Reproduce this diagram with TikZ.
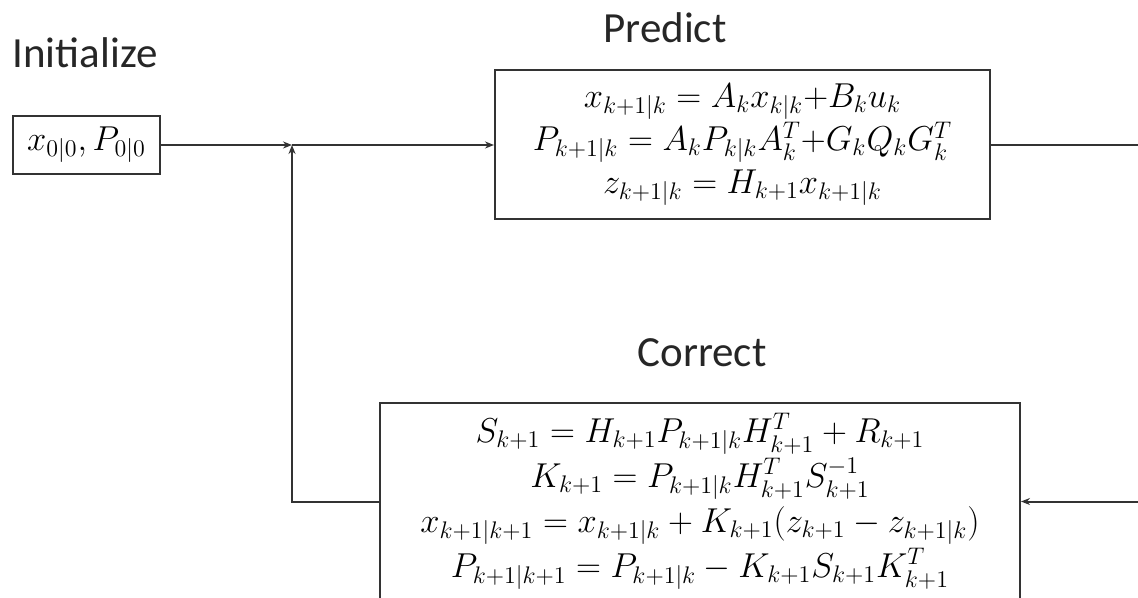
\documentclass[tikz,border=0pt]{standalone}
\usepackage[no-math]{fontspec}
\setmainfont{Carlito}
\usepackage{amsmath}
\usetikzlibrary{arrows.meta, positioning, calc}

\begin{document}
\begin{tikzpicture}[
    x=0.5pt, y=-0.5pt,
    block/.style={draw=black!80, line width=1pt, align=center, inner sep=0pt, font=\fontsize{16.5}{21.5}\selectfont},
    heading/.style={anchor=base, font=\fontsize{21.5}{26}\selectfont, text=black!85},
    arr/.style={-{Stealth[length=4.5pt, width=3.5pt]}},
    link/.style={draw=black!80, line width=1pt},
]
\useasboundingbox (0,0) rectangle (1138,598);

% stage titles
\node[heading] (tinit) at (85,68) {Initialize};
\node[heading] (tpredict) at (665,43) {Predict};
\node[heading] (tcorrect) at (702,366) {Correct};

% filter blocks
\node[block, minimum width=73.5pt, minimum height=29pt] (init) at (86.5,145) {$x_{0|0}, P_{0|0}$};
\node[block, minimum width=247.5pt, minimum height=74.5pt] (predict) at (742.5,145) {%
    $x_{k+1|k} = A_k x_{k|k}{+}B_k u_k$\\
    $P_{k+1|k} = A_k P_{k|k} A_k^T{+}G_k Q_k G_k^T$\\
    $z_{k+1|k} = H_{k+1} x_{k+1|k}$};
\node[block, minimum width=320pt, minimum height=98.5pt, font=\fontsize{16.5}{22.5}\selectfont] (correct) at (700,501.5) {%
    $S_{k+1} = H_{k+1} P_{k+1|k} H_{k+1}^T + R_{k+1}$\\
    $K_{k+1} = P_{k+1|k} H_{k+1}^T S_{k+1}^{-1}$\\
    $x_{k+1|k+1} = x_{k+1|k} + K_{k+1}(z_{k+1} - z_{k+1|k})$\\
    $P_{k+1|k+1} = P_{k+1|k} - K_{k+1} S_{k+1} K_{k+1}^T$};

\coordinate (join) at (292,145);

% loop
\draw[link, arr] (init.east) -- (join);
\draw[link, arr] (join) -- (predict.west);
\draw[link, arr] (predict.east) -- ++(170,0) |- (correct.east);
\draw[link, arr] (correct.west) -| (join);
\end{tikzpicture}
\end{document}
